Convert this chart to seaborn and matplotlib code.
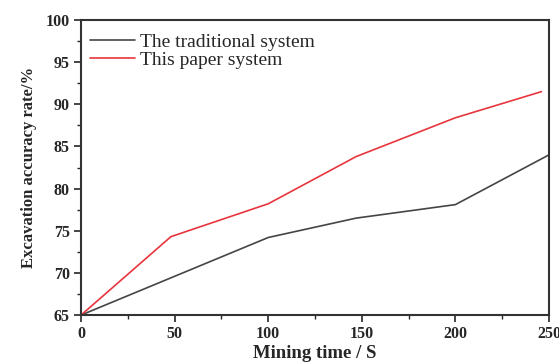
import matplotlib
matplotlib.use("Agg")
import matplotlib.pyplot as plt
from matplotlib.ticker import MultipleLocator
import seaborn as sns
import pandas as pd

# data
trad_time = [0, 100, 147, 200, 250]
trad_rate = [65, 74.2, 76.5, 78.1, 84.0]
paper_time = [0, 48, 100, 147, 200, 246]
paper_rate = [65, 74.3, 78.2, 83.8, 88.4, 91.5]
labels = ["The traditional system", "This paper system"]

df = pd.concat([
    pd.DataFrame({"time": trad_time, "rate": trad_rate, "system": labels[0]}),
    pd.DataFrame({"time": paper_time, "rate": paper_rate, "system": labels[1]}),
])

sns.set_style("white")
plt.rcParams['font.family'] = ['Liberation Serif', 'DejaVu Serif']

fig = plt.figure(figsize=(5.59, 3.63), dpi=100)
ax = fig.add_axes([0.145, 0.132, 0.837, 0.813])

sns.lineplot(data=df, x="time", y="rate", hue="system",
             palette=["#454545", "#e8353d"], linewidth=1.2, ax=ax, sort=False)

ax.set_xlim(0, 250)
ax.set_ylim(65, 100)
ax.xaxis.set_major_locator(MultipleLocator(50))
ax.xaxis.set_minor_locator(MultipleLocator(25))
ax.yaxis.set_major_locator(MultipleLocator(5))
ax.yaxis.set_minor_locator(MultipleLocator(2.5))
ax.tick_params(which="major", direction="out", length=5, width=1.2,
               bottom=True, left=True, labelsize=11.5, pad=3)
ax.tick_params(which="minor", direction="out", length=3, width=1,
               bottom=True, left=True)
for lab in ax.get_xticklabels() + ax.get_yticklabels():
    lab.set_fontweight("bold")

for sp in ax.spines.values():
    sp.set_color("#333333")
    sp.set_linewidth(1.5)

ax.set_xlabel("Mining time / S", fontsize=13.5, fontweight="bold", labelpad=2)
ax.set_ylabel("Excavation accuracy rate/%", fontsize=12, fontweight="bold", labelpad=6)

leg = ax.legend(loc="upper left", bbox_to_anchor=(0.0, 0.985), frameon=False,
                fontsize=14, handlelength=2.3, borderaxespad=0.05,
                labelspacing=0.02, handletextpad=0.3)
leg.set_title(None)

fig.savefig("out.png", dpi=100)
